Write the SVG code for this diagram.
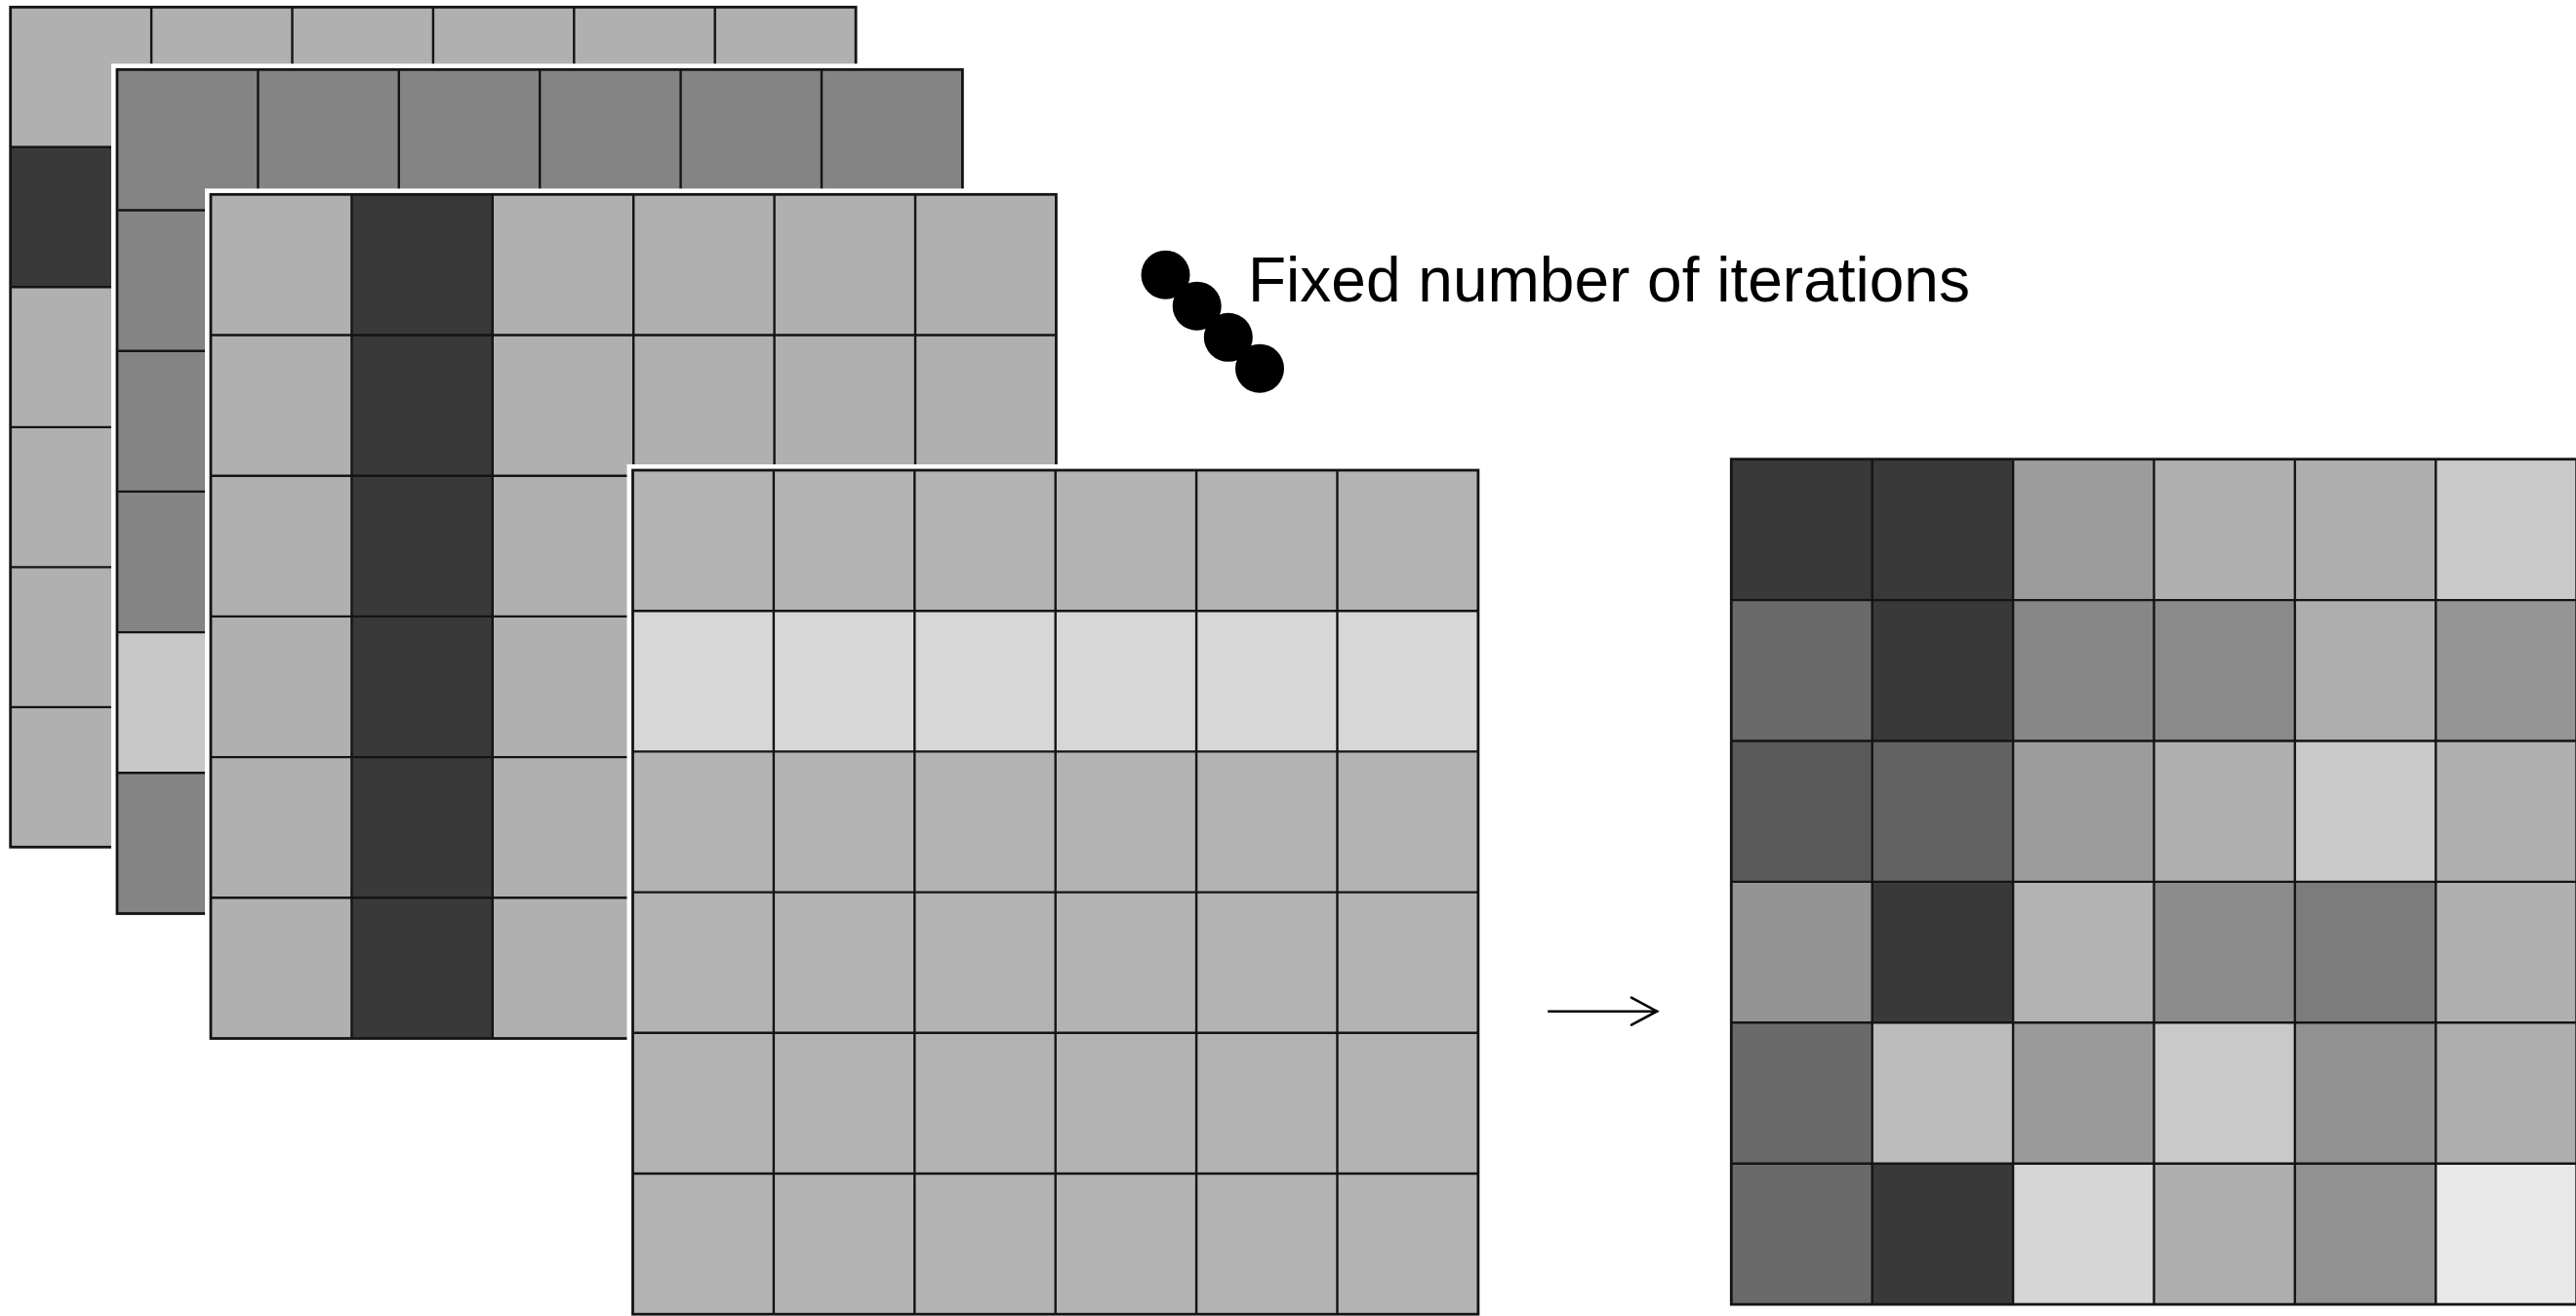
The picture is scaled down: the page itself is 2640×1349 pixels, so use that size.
<svg xmlns="http://www.w3.org/2000/svg" width="2640" height="1349" viewBox="0 0 2640 1349">
  <style>
    .halo { fill: none; stroke: #ffffff; stroke-width: 12; }
    .grid { fill: none; stroke: #141414; stroke-width: 2.4; }
    .frame { fill: none; stroke: #141414; stroke-width: 2.8; }
    .label { font-family: "Liberation Sans", Arial, sans-serif; font-size: 64px; fill: #000000; }
    .dot { fill: #000000; }
    .link { fill: none; stroke: #000000; stroke-width: 2.6; stroke-linecap: round; }
  </style>
  <defs>
    <!-- 6x6 cell lines for a stacked feature map (cell 144.4 x 144.2) -->
    <path id="cells" d="M144.4,0V865.2M288.8,0V865.2M433.2,0V865.2M577.6,0V865.2M722,0V865.2M0,144.2H866.4M0,288.4H866.4M0,432.6H866.4M0,576.8H866.4M0,721H866.4"/>
    <marker id="open-head" markerUnits="userSpaceOnUse" viewBox="0 0 32 32" refX="28" refY="16" markerWidth="32" markerHeight="32" orient="auto">
      <path d="M2,2 L28,16 L2,30" fill="none" stroke="#000000" stroke-width="2.6" stroke-linecap="round" stroke-linejoin="miter"/>
    </marker>
  </defs>
  <rect width="2640" height="1349" fill="#ffffff"/>

  <!-- back map: dark second row -->
  <g id="map-1" transform="translate(10.7,7.3) scale(1,0.9952)">
    <rect width="866.4" height="865.2" fill="#b0b0b0"/>
    <rect y="144.2" width="866.4" height="144.2" fill="#393939"/>
    <use href="#cells" class="grid"/>
    <rect width="866.4" height="865.2" class="frame"/>
  </g>

  <!-- second map: light fifth row -->
  <g id="map-2" transform="translate(120,71.3)">
    <rect width="866.4" height="865.2" class="halo"/>
    <rect width="866.4" height="865.2" fill="#848484"/>
    <rect y="576.8" width="866.4" height="144.2" fill="#c8c8c8"/>
    <use href="#cells" class="grid"/>
    <rect width="866.4" height="865.2" class="frame"/>
  </g>

  <!-- third map: dark second column -->
  <g id="map-3" transform="translate(216,199.3)">
    <rect width="866.4" height="865.2" class="halo"/>
    <rect width="866.4" height="865.2" fill="#b0b0b0"/>
    <rect x="144.4" width="144.4" height="865.2" fill="#393939"/>
    <use href="#cells" class="grid"/>
    <rect width="866.4" height="865.2" class="frame"/>
  </g>

  <!-- front map: light second row -->
  <g id="map-4" transform="translate(648.5,482)">
    <rect width="866.4" height="865.2" class="halo"/>
    <rect width="866.4" height="865.2" fill="#b3b3b3"/>
    <rect y="144.2" width="866.4" height="144.2" fill="#d7d7d7"/>
    <use href="#cells" class="grid"/>
    <rect width="866.4" height="865.2" class="frame"/>
  </g>

  <!-- iteration marker and caption -->
  <g id="iterations">
    <circle class="dot" cx="1194.5" cy="281.7" r="25"/>
    <circle class="dot" cx="1226.7" cy="313.7" r="25"/>
    <circle class="dot" cx="1258.8" cy="345.8" r="25"/>
    <circle class="dot" cx="1291" cy="377.7" r="25"/>
    <text class="label" x="1279" y="309.3">Fixed number of iterations</text>
  </g>

  <!-- resulting map -->
  <g id="result" transform="translate(1774.3,470.7)">
    <g>
      <rect x="0" y="0" width="144.4" height="144.4" fill="#393939"/>
      <rect x="144.4" y="0" width="144.4" height="144.4" fill="#393939"/>
      <rect x="288.8" y="0" width="144.4" height="144.4" fill="#9c9c9c"/>
      <rect x="433.2" y="0" width="144.4" height="144.4" fill="#b0b0b0"/>
      <rect x="577.6" y="0" width="144.4" height="144.4" fill="#aeaeae"/>
      <rect x="722" y="0" width="144.4" height="144.4" fill="#c9c9c9"/>

      <rect x="0" y="144.4" width="144.4" height="144.4" fill="#6a6a6a"/>
      <rect x="144.4" y="144.4" width="144.4" height="144.4" fill="#393939"/>
      <rect x="288.8" y="144.4" width="144.4" height="144.4" fill="#878787"/>
      <rect x="433.2" y="144.4" width="144.4" height="144.4" fill="#8a8a8a"/>
      <rect x="577.6" y="144.4" width="144.4" height="144.4" fill="#aeaeae"/>
      <rect x="722" y="144.4" width="144.4" height="144.4" fill="#959595"/>

      <rect x="0" y="288.8" width="144.4" height="144.4" fill="#5a5a5a"/>
      <rect x="144.4" y="288.8" width="144.4" height="144.4" fill="#626262"/>
      <rect x="288.8" y="288.8" width="144.4" height="144.4" fill="#9c9c9c"/>
      <rect x="433.2" y="288.8" width="144.4" height="144.4" fill="#b0b0b0"/>
      <rect x="577.6" y="288.8" width="144.4" height="144.4" fill="#cacaca"/>
      <rect x="722" y="288.8" width="144.4" height="144.4" fill="#b0b0b0"/>

      <rect x="0" y="433.2" width="144.4" height="144.4" fill="#949494"/>
      <rect x="144.4" y="433.2" width="144.4" height="144.4" fill="#393939"/>
      <rect x="288.8" y="433.2" width="144.4" height="144.4" fill="#b3b3b3"/>
      <rect x="433.2" y="433.2" width="144.4" height="144.4" fill="#8c8c8c"/>
      <rect x="577.6" y="433.2" width="144.4" height="144.4" fill="#7c7c7c"/>
      <rect x="722" y="433.2" width="144.4" height="144.4" fill="#b0b0b0"/>

      <rect x="0" y="577.6" width="144.4" height="144.4" fill="#6a6a6a"/>
      <rect x="144.4" y="577.6" width="144.4" height="144.4" fill="#bcbcbc"/>
      <rect x="288.8" y="577.6" width="144.4" height="144.4" fill="#9a9a9a"/>
      <rect x="433.2" y="577.6" width="144.4" height="144.4" fill="#c9c9c9"/>
      <rect x="577.6" y="577.6" width="144.4" height="144.4" fill="#919191"/>
      <rect x="722" y="577.6" width="144.4" height="144.4" fill="#aeaeae"/>

      <rect x="0" y="722" width="144.4" height="144.4" fill="#6a6a6a"/>
      <rect x="144.4" y="722" width="144.4" height="144.4" fill="#393939"/>
      <rect x="288.8" y="722" width="144.4" height="144.4" fill="#d6d6d6"/>
      <rect x="433.2" y="722" width="144.4" height="144.4" fill="#aeaeae"/>
      <rect x="577.6" y="722" width="144.4" height="144.4" fill="#919191"/>
      <rect x="722" y="722" width="144.4" height="144.4" fill="#e8e8e8"/>
    </g>
    <path class="grid" d="M144.4,0V866.4M288.8,0V866.4M433.2,0V866.4M577.6,0V866.4M722,0V866.4M0,144.4H866.4M0,288.8H866.4M0,433.2H866.4M0,577.6H866.4M0,722H866.4"/>
    <rect width="866.4" height="866.4" class="frame"/>
  </g>

  <!-- connectors -->
  <g id="connectors">
    <line class="link" x1="1587.3" y1="1036.7" x2="1698" y2="1036.7" marker-end="url(#open-head)"/>
  </g>
</svg>
